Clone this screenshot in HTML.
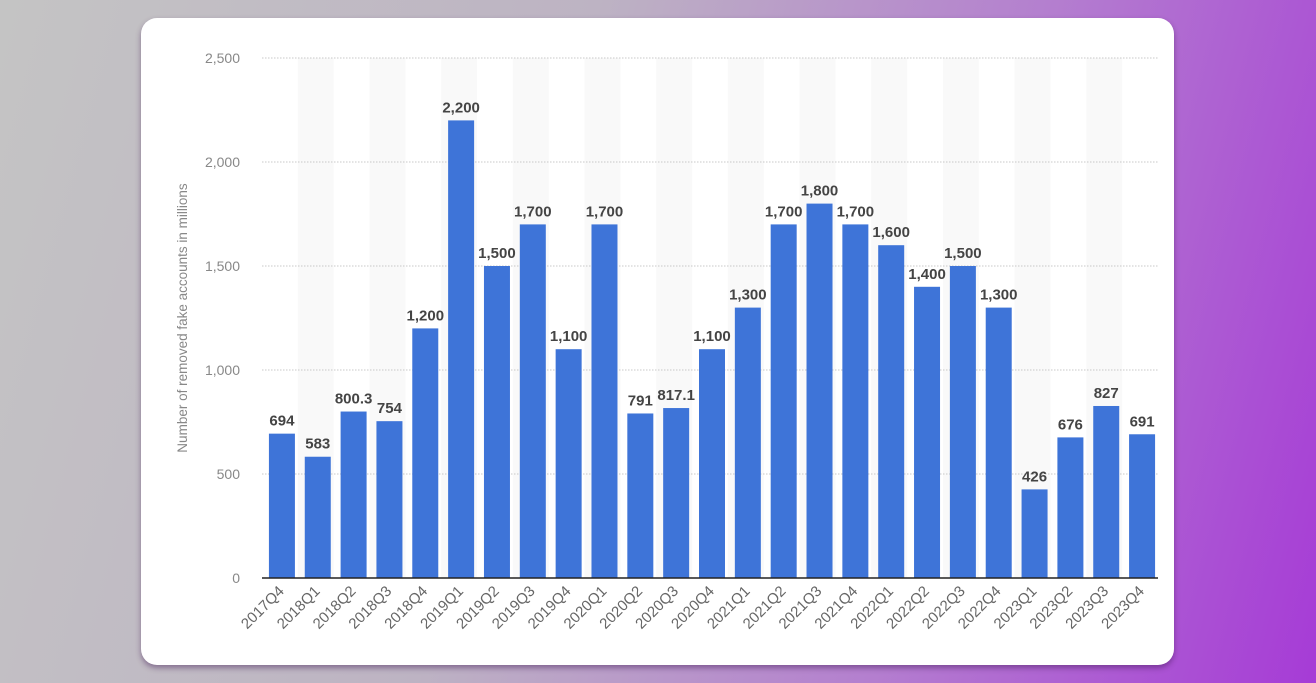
<!DOCTYPE html>
<html><head><meta charset="utf-8"><style>
html,body{margin:0;padding:0;width:1316px;height:683px;overflow:hidden}
body{background:linear-gradient(105deg,#c4c4c4 0%,#bdb3c3 40%,#b47fcf 70%,#a63bd6 100%);font-family:"Liberation Sans",sans-serif}
#card{position:absolute;left:141px;top:18px;width:1033px;height:647px;background:#fff;border-radius:16px;box-shadow:0 3px 6px rgba(60,20,80,.45)}
</style></head><body>
<div id="card"></div>
<svg id="chart" width="1316" height="683" style="position:absolute;left:0;top:0"></svg>
<script>
const categories=["2017Q4","2018Q1","2018Q2","2018Q3","2018Q4","2019Q1","2019Q2","2019Q3","2019Q4","2020Q1","2020Q2","2020Q3","2020Q4","2021Q1","2021Q2","2021Q3","2021Q4","2022Q1","2022Q2","2022Q3","2022Q4","2023Q1","2023Q2","2023Q3","2023Q4"];
const values=[694,583,800.3,754,1200,2200,1500,1700,1100,1700,791,817.1,1100,1300,1700,1800,1700,1600,1400,1500,1300,426,676,827,691];
const valueLabels=["694","583","800.3","754","1,200","2,200","1,500","1,700","1,100","1,700","791","817.1","1,100","1,300","1,700","1,800","1,700","1,600","1,400","1,500","1,300","426","676","827","691"];
const yTicks=[0,500,1000,1500,2000,2500];
const yTickLabels=["0","500","1,000","1,500","2,000","2,500"];
const NS="http://www.w3.org/2000/svg";
const svg=document.getElementById("chart");
const x0=262,x1=1158,yB=578,yT=58,yMax=2500;
const step=(x1-x0)/categories.length,bw=26;
const y=v=>yB-(v/yMax)*(yB-yT);
const bx=i=>x0+i*step;
function mk(t,a,p){const e=document.createElementNS(NS,t);for(const k in a)e.setAttribute(k,a[k]);(p||svg).appendChild(e);return e;}
categories.forEach((c,i)=>{if(i%2===1){const r=mk("rect",{x:bx(i),y:yT,width:step,height:yB-yT,fill:"#f9f9f9"});

}});
yTicks.forEach((t,i)=>{
 if(t>0){const l=mk("line",{x1:x0,x2:x1,y1:y(t),y2:y(t),stroke:"#c8c8c8","stroke-dasharray":"1.5,1.5"});
 
 }
 const tx=mk("text",{x:240,y:y(t)+5,"text-anchor":"end","font-size":"14",fill:"#888"});tx.textContent=yTickLabels[i];
 
 
});
categories.forEach((c,i)=>{
 const cx=bx(i)+step/2+2;
 const r=mk("rect",{x:cx-bw/2,y:y(values[i]),width:bw,height:yB-y(values[i]),fill:"#3e74d8"});
 
 
 const v=mk("text",{x:cx,y:y(values[i])-8,"text-anchor":"middle","font-size":"15","font-weight":"bold",fill:"#444"});v.textContent=valueLabels[i];
 
 
 const lx=cx+3,ly=592;
 const l=mk("text",{x:lx,y:ly,"text-anchor":"end","font-size":"15",fill:"#666",transform:`rotate(-45 ${lx} ${ly})`});l.textContent=c;
 
 
});
const ax=mk("line",{x1:x0,x2:x1,y1:yB,y2:yB,stroke:"#222","stroke-width":"1.5"});


const yt=mk("text",{x:187,y:318,"text-anchor":"middle","font-size":"13.5",fill:"#888",transform:"rotate(-90 187 318)"});
yt.textContent="Number of removed fake accounts in millions";


</script>
</body></html>
